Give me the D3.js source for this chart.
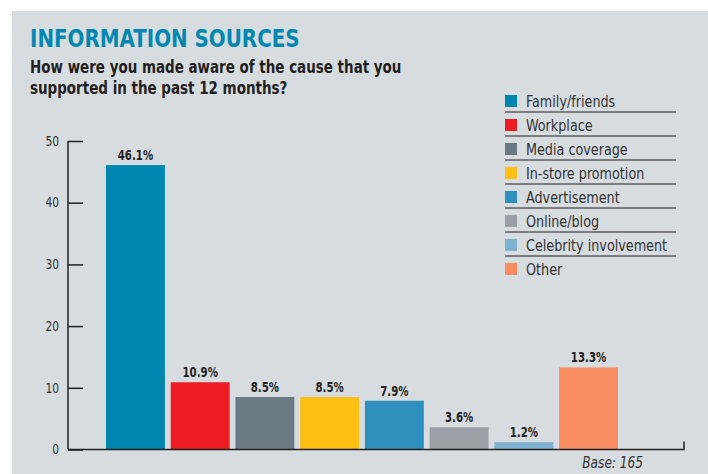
<!DOCTYPE html>
<html>
<head>
<meta charset="utf-8">
<script src="https://cdn.jsdelivr.net/npm/d3@7"></script>
<style>
  html, body { margin: 0; padding: 0; background: #ffffff; }
  svg { display: block; }
</style>
</head>
<body>
<svg id="chart" width="708" height="474"></svg>
<script>
const categories = ["Family/friends", "Workplace", "Media coverage", "In-store promotion",
                    "Advertisement", "Online/blog", "Celebrity involvement", "Other"];
const values = [46.1, 10.9, 8.5, 8.5, 7.9, 3.6, 1.2, 13.3];
const valueLabels = ["46.1%", "10.9%", "8.5%", "8.5%", "7.9%", "3.6%", "1.2%", "13.3%"];
const colors = ["#0086ae", "#ed1c24", "#6a7a82", "#fcbf14", "#2f8fbd", "#9aa0a6", "#7fb2cf", "#f78d61"];
const yTicks = [0, 10, 20, 30, 40, 50];

const svg = d3.select("#chart");
const font = '"DejaVu Sans Condensed", "DejaVu Sans", sans-serif';

// narrow the glyphs horizontally to imitate the condensed typeface
function condense(sel, k) {
  sel.each(function () {
    const len = this.getComputedTextLength();
    d3.select(this).attr("textLength", len * k).attr("lengthAdjust", "spacingAndGlyphs");
  });
}

// panel background
svg.append("rect").attr("x", 12).attr("y", 11).attr("width", 708 - 12).attr("height", 474 - 11)
  .attr("fill", "#d7dce0");

// title
svg.append("text").attr("x", 30).attr("y", 47)
  .attr("font-family", font).attr("font-weight", "bold").attr("font-size", 24)
  .attr("fill", "#0088b1").text("INFORMATION SOURCES")
  .call(condense, 0.92);
svg.append("text").attr("x", 30).attr("y", 73)
  .attr("font-family", font).attr("font-weight", "bold").attr("font-size", 17)
  .attr("fill", "#231f20").text("How were you made aware of the cause that you")
  .call(condense, 0.88);
svg.append("text").attr("x", 30).attr("y", 94)
  .attr("font-family", font).attr("font-weight", "bold").attr("font-size", 17)
  .attr("fill", "#231f20").text("supported in the past 12 months?")
  .call(condense, 0.88);

// scales
const y = d3.scaleLinear().domain([0, 50]).range([449.5, 141]);
const x = d3.scaleBand().domain(categories).range([106, 618]).paddingInner(0.09).paddingOuter(0);

// y axis
const yAxis = d3.axisRight(y).tickValues(yTicks).tickSize(15).tickFormat("");
const gy = svg.append("g").attr("transform", "translate(68,0)").call(yAxis);
gy.select(".domain").attr("stroke", "#231f20").attr("stroke-width", 1.5).attr("d", `M0,${y(50)}V${y(0)}`);
gy.selectAll(".tick line").attr("stroke", "#231f20").attr("stroke-width", 1.5);

svg.append("g").selectAll("text").data(yTicks).join("text")
  .attr("x", 59).attr("y", d => y(d)).attr("dy", "0.35em")
  .attr("text-anchor", "end").attr("font-family", font).attr("font-size", 13.5)
  .attr("fill", "#333").text(d => d)
  .call(condense, 0.88);

// bars
svg.append("g").selectAll("rect").data(values).join("rect")
  .attr("x", (d, i) => x(categories[i]))
  .attr("width", x.bandwidth())
  .attr("y", d => y(d))
  .attr("height", d => y(0) - y(d))
  .attr("fill", (d, i) => colors[i]);

// value labels
svg.append("g").selectAll("text").data(values).join("text")
  .attr("x", (d, i) => x(categories[i]) + x.bandwidth() / 2)
  .attr("y", d => y(d) - 5)
  .attr("text-anchor", "middle").attr("font-family", font).attr("font-weight", "bold")
  .attr("font-size", 13.5).attr("fill", "#231f20")
  .text((d, i) => valueLabels[i])
  .call(condense, 0.84);

// x axis baseline with end tick
svg.append("path")
  .attr("d", `M68,${y(0)}H684V${y(0) - 8}`)
  .attr("fill", "none").attr("stroke", "#231f20").attr("stroke-width", 1.5);

// base note
svg.append("text").attr("x", 643).attr("y", 468)
  .attr("text-anchor", "end").attr("font-family", font).attr("font-style", "italic")
  .attr("font-size", 15).attr("fill", "#333").text("Base: 165")
  .call(condense, 0.9);

// legend
const lg = svg.append("g");
const itemH = 24;
categories.forEach((c, i) => {
  const cy = 101 + i * itemH;
  lg.append("rect").attr("x", 505).attr("y", cy - 6).attr("width", 12).attr("height", 12).attr("fill", colors[i]);
  lg.append("text").attr("x", 526).attr("y", cy).attr("dy", "0.35em")
    .attr("font-family", font).attr("font-size", 16.5).attr("fill", "#333").text(c)
    .call(condense, 0.86);
  if (i < categories.length - 1) {
    lg.append("line").attr("x1", 505).attr("x2", 676)
      .attr("y1", cy + 11).attr("y2", cy + 11)
      .attr("stroke", "#231f20").attr("stroke-width", 1);
  }
});
</script>
</body>
</html>
